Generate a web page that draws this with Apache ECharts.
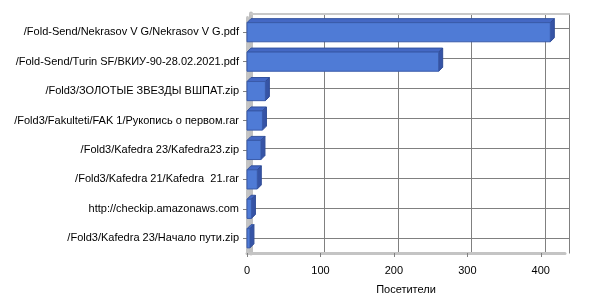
<!DOCTYPE html>
<html><head><meta charset="utf-8">
<script src="https://cdn.jsdelivr.net/npm/echarts@6/dist/echarts.min.js"></script>
<style>html,body{margin:0;padding:0;background:#fff}#c{width:600px;height:300px}</style>
</head><body><div id="c"></div>
<script>
const categories = [
  "/Fold-Send/Nekrasov V G/Nekrasov V G.pdf",
  "/Fold-Send/Turin SF/ВКИУ-90-28.02.2021.pdf",
  "/Fold3/ЗОЛОТЫЕ ЗВЕЗДЫ ВШПАТ.zip",
  "/Fold3/Fakulteti/FAK 1/Рукопись о первом.rar",
  "/Fold3/Kafedra 23/Kafedra23.zip",
  "/Fold3/Kafedra 21/Kafedra  21.rar",
  "http://checkip.amazonaws.com",
  "/Fold3/Kafedra 23/Начало пути.zip"
];
const visitors = [413, 261, 25, 21, 19, 14, 6, 4];
const axisName = "Посетители";
const xMax = 433;
const xInterval = 100;

const font = "'Liberation Sans', Arial, sans-serif";
const chart = echarts.init(document.getElementById('c'), null, {renderer: 'canvas'});
const D = 4; // depth offset in px

chart.setOption({
  animation: false,
  grid: [
    {left: 247, right: 35, top: 17.5, bottom: 42.5},
    {left: 251, right: 31, top: 13.5, bottom: 46.5}
  ],
  xAxis: [
    {gridIndex: 0, type: 'value', min: 0, max: xMax, interval: xInterval,
     name: axisName, nameLocation: 'middle', nameGap: 31,
     nameTextStyle: {fontFamily: font, fontSize: 11, color: '#000'},
     axisLine: {show: true, lineStyle: {color: '#c4c4c4', width: 3}},
     axisTick: {show: true, length: 4, lineStyle: {color: '#808080'}},
     axisLabel: {fontFamily: font, fontSize: 11, color: '#000', margin: 12, showMaxLabel: false},
     splitLine: {show: false}},
    {gridIndex: 1, type: 'value', min: 0, max: xMax, interval: xInterval, position: 'top',
     axisLine: {show: true, lineStyle: {color: '#c8c8c8', width: 2}},
     axisTick: {show: false}, axisLabel: {show: false},
     splitLine: {show: true, lineStyle: {color: '#808080', width: 1}}}
  ],
  yAxis: [
    {gridIndex: 0, type: 'category', data: categories, inverse: true,
     axisLine: {show: true, lineStyle: {color: '#c4c4c4', width: 3}},
     axisTick: {show: true, alignWithLabel: true, length: 4, lineStyle: {color: '#808080'}},
     axisLabel: {fontFamily: font, fontSize: 11, color: '#000', margin: 8},
     splitLine: {show: false}},
    {gridIndex: 1, type: 'category', data: categories, inverse: true, position: 'right',
     axisLine: {show: true, lineStyle: {color: '#c0c0c0', width: 4}},
     axisTick: {show: false}, axisLabel: {show: false},
     splitLine: {show: true, alignWithLabel: true, lineStyle: {color: '#808080', width: 1}}}
  ],
  series: [{
    type: 'custom',
    xAxisIndex: 0, yAxisIndex: 0,
    data: visitors.map((v, i) => [v, i]),
    renderItem: function (params, api) {
      const v = api.value(0), idx = api.value(1);
      const p0 = api.coord([0, idx]);
      const p1 = api.coord([v, idx]);
      const band = api.size([0, 1])[1];
      const h = band * 0.65;
      const x0 = p0[0], x1 = p1[0];
      const yT = p0[1] - h / 2, yB = p0[1] + h / 2;
      return {type: 'group', children: [
        {type: 'polygon', shape: {points: [[x0, yT], [x1, yT], [x1 + D, yT - D], [x0 + D, yT - D]]},
         style: {fill: '#4468C4', stroke: '#34539F', lineWidth: 1}},
        {type: 'polygon', shape: {points: [[x1, yT], [x1 + D, yT - D], [x1 + D, yB - D], [x1, yB]]},
         style: {fill: '#3654A6', stroke: '#2F4B95', lineWidth: 1}},
        {type: 'rect', shape: {x: x0, y: yT, width: x1 - x0, height: h},
         style: {fill: '#4F7BD6', stroke: '#3A5BAA', lineWidth: 1}}
      ]};
    }
  }]
});
</script></body></html>
